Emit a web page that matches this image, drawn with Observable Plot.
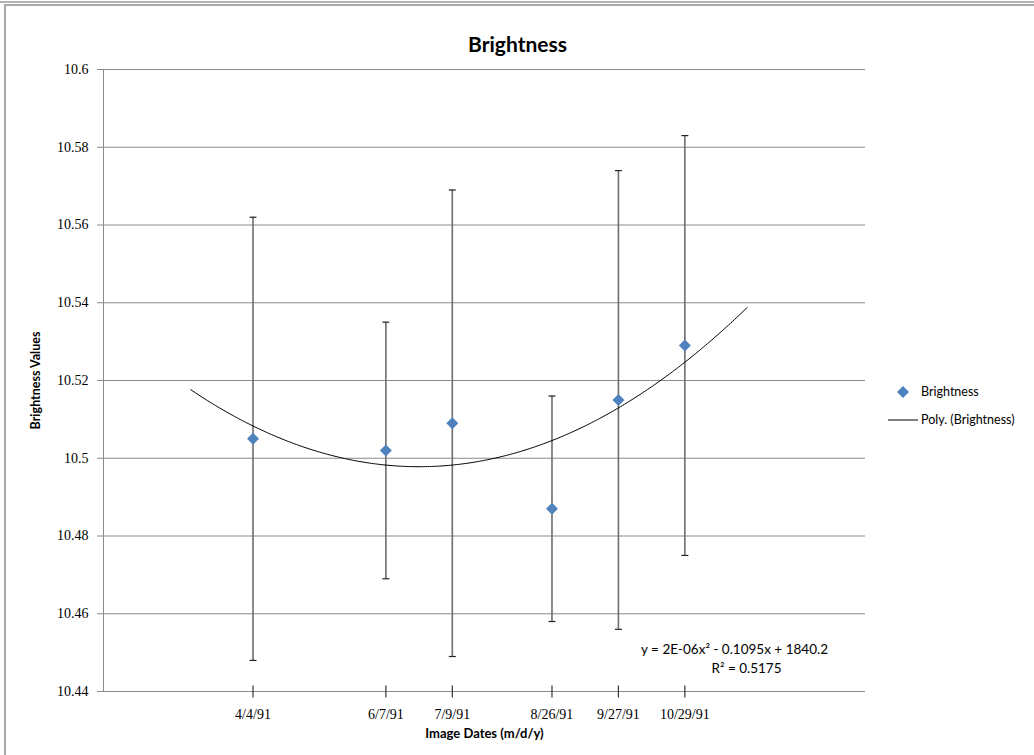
<!DOCTYPE html>
<html><head><meta charset="utf-8">
<script src="https://cdn.jsdelivr.net/npm/d3@7"></script>
<script src="https://cdn.jsdelivr.net/npm/@observablehq/plot@0.6"></script>
<style>
body{margin:0;background:#fff;}
#wrap{position:relative;width:1034px;height:755px;overflow:hidden;background:#fff;}
#topline{position:absolute;left:0;top:1px;width:1034px;border-top:2px solid #b4b4b4;}
#frame{position:absolute;left:4px;top:4px;width:1100px;height:800px;border-left:2px solid #a8a8a8;border-top:2px solid #a8a8a8;}
#chart{position:absolute;left:0;top:0;}
.lg{position:absolute;font-family:Lato,"Open Sans",sans-serif;font-size:12.5px;color:#000;line-height:14px;white-space:nowrap;}
</style></head>
<body>
<div id="wrap">
  <div id="topline"></div>
  <div id="frame"></div>
  <div id="chart"></div>
  <svg class="lg" style="left:884px;top:380px;" width="40" height="50">
    <path d="M19,6 L25,12 L19,18 L13,12 Z" fill="#4F81BD"></path>
    <line x1="4" y1="40" x2="34" y2="40" stroke="#000" stroke-width="1"></line>
  </svg>
  <div class="lg" style="left:921px;top:385px;">Brightness</div>
  <div class="lg" style="left:921px;top:413px;">Poly. (Brightness)</div>
</div>
<script>
// ---- data ----
const imageDates = ["1991-04-04", "1991-06-07", "1991-07-09", "1991-08-26", "1991-09-27", "1991-10-29"];
const dateLabels = ["4/4/91", "6/7/91", "7/9/91", "8/26/91", "9/27/91", "10/29/91"];
const brightness = [10.505, 10.502, 10.509, 10.487, 10.515, 10.529];
const errorAmount = [0.057, 0.033, 0.060, 0.029, 0.059, 0.054];
const yTicks = [10.44, 10.46, 10.48, 10.5, 10.52, 10.54, 10.56, 10.58, 10.6];
const xDomain = ["1991-01-22", "1992-01-24"];
const yDomain = [10.44, 10.6];
const trendForecastDays = 30;
const equationLines = ["y = 2E-06x\u00B2 - 0.1095x + 1840.2", "R\u00B2 = 0.5175"];

// ---- build table ----
const DAY = 864e5;
const rows = imageDates.map((d, i) => ({
  date: new Date(d), label: dateLabels[i], v: brightness[i],
  lo: brightness[i] - errorAmount[i], hi: brightness[i] + errorAmount[i]
}));

// ---- polynomial (order 2) trendline: least squares, like Excel ----
const xs = rows.map(r => +r.date / DAY), ys = rows.map(r => r.v);
const mx = d3.mean(xs);
const u = xs.map(x => x - mx);
const n = u.length;
const S = k => d3.sum(u, x => Math.pow(x, k));
const T = k => d3.sum(u, (x, i) => Math.pow(x, k) * ys[i]);
function solve3(A, b) {
  const M = A.map((r, i) => [...r, b[i]]);
  for (let c = 0; c < 3; c++) {
    let p = c; for (let r = c + 1; r < 3; r++) if (Math.abs(M[r][c]) > Math.abs(M[p][c])) p = r;
    [M[c], M[p]] = [M[p], M[c]];
    for (let r = 0; r < 3; r++) if (r !== c) { const f = M[r][c] / M[c][c]; for (let k = c; k < 4; k++) M[r][k] -= f * M[c][k]; }
  }
  return M.map((r, i) => r[3] / r[i]);
}
const [c0, c1, c2] = solve3([[n, S(1), S(2)], [S(1), S(2), S(3)], [S(2), S(3), S(4)]], [T(0), T(1), T(2)]);
const t0 = d3.min(xs) - trendForecastDays, t1 = d3.max(xs) + trendForecastDays;
const trend = d3.range(t0, t1 + 0.5, 1).map(t => { const x = t - mx; return {date: new Date(t * DAY), v: c0 + c1 * x + c2 * x * x}; });

const capSymbol = {draw(ctx, size) { const w = 3.5; ctx.moveTo(-w, 0); ctx.lineTo(w, 0); }};
const tickSymbol = {draw(ctx, size) { const h = 6; ctx.moveTo(0, -h); ctx.lineTo(0, h); }};

const serif = "'Liberation Serif', 'DejaVu Serif', serif";
const sans = "Lato, 'Open Sans', sans-serif";

const chart = Plot.plot({
  width: 1034, height: 755,
  marginLeft: 103, marginRight: 169, marginTop: 69, marginBottom: 64,
  style: {fontFamily: sans, background: "transparent", overflow: "visible"},
  x: {type: "utc", domain: xDomain.map(d => new Date(d))},
  y: {domain: yDomain},
  marks: [
    Plot.gridY(yTicks, {stroke: "#8a8a8a", strokeOpacity: 1, strokeWidth: 1}),
    Plot.ruleX([new Date(xDomain[0])], {stroke: "#8a8a8a", strokeWidth: 1}),
    Plot.axisY({ticks: yTicks, tickFormat: d => String(d), tickSize: 6, tickPadding: 9, stroke: "#8a8a8a",
      fontFamily: serif, fontSize: 14, fill: "#000", label: null}),
    Plot.axisX({ticks: rows.map(r => r.date), tickFormat: d => dateLabels[rows.findIndex(r => +r.date === +d)],
      tickSize: 0, tickPadding: 18, fontFamily: serif, fontSize: 14, fill: "#000", label: null}),
    Plot.dot(rows, {x: "date", y: yDomain[0], symbol: tickSymbol, r: 3, stroke: "#333", strokeWidth: 1.2, fill: "none"}),
    Plot.ruleX(rows, {x: "date", y1: "lo", y2: "hi", stroke: "#6e6e6e", strokeWidth: 1.6}),
    Plot.dot(rows, {x: "date", y: "lo", symbol: capSymbol, r: 3, stroke: "#222", strokeWidth: 1.2, fill: "none"}),
    Plot.dot(rows, {x: "date", y: "hi", symbol: capSymbol, r: 3, stroke: "#222", strokeWidth: 1.2, fill: "none"}),
    Plot.line(trend, {x: "date", y: "v", stroke: "#000", strokeWidth: 1, curve: "linear"}),
    Plot.dot(rows, {x: "date", y: "v", symbol: "diamond2", r: 5.4, fill: "#4F81BD", stroke: "none"}),
    Plot.text(["Brightness"], {frameAnchor: "top", dx: 33, dy: -32, fontSize: 21, fontWeight: "bold", fill: "#000", fontFamily: sans}),
    Plot.text(["Brightness Values"], {frameAnchor: "left", textAnchor: "middle", dx: -68, rotate: -90, fontSize: 12.5, fontWeight: "bold", fill: "#000", fontFamily: sans}),
    Plot.text(["Image Dates (m/d/y)"], {frameAnchor: "bottom", dy: 46, fontSize: 13, fontWeight: "bold", fill: "#000", fontFamily: sans}),
    Plot.text([equationLines[0]], {frameAnchor: "bottom", dx: 250, dy: -38, fontSize: 13.5, fill: "#000", fontFamily: sans}),
    Plot.text([equationLines[1]], {frameAnchor: "bottom", dx: 262, dy: -19, fontSize: 13.5, fill: "#000", fontFamily: sans})
  ]
});
document.getElementById("chart").append(chart);
</script>
</body></html>
